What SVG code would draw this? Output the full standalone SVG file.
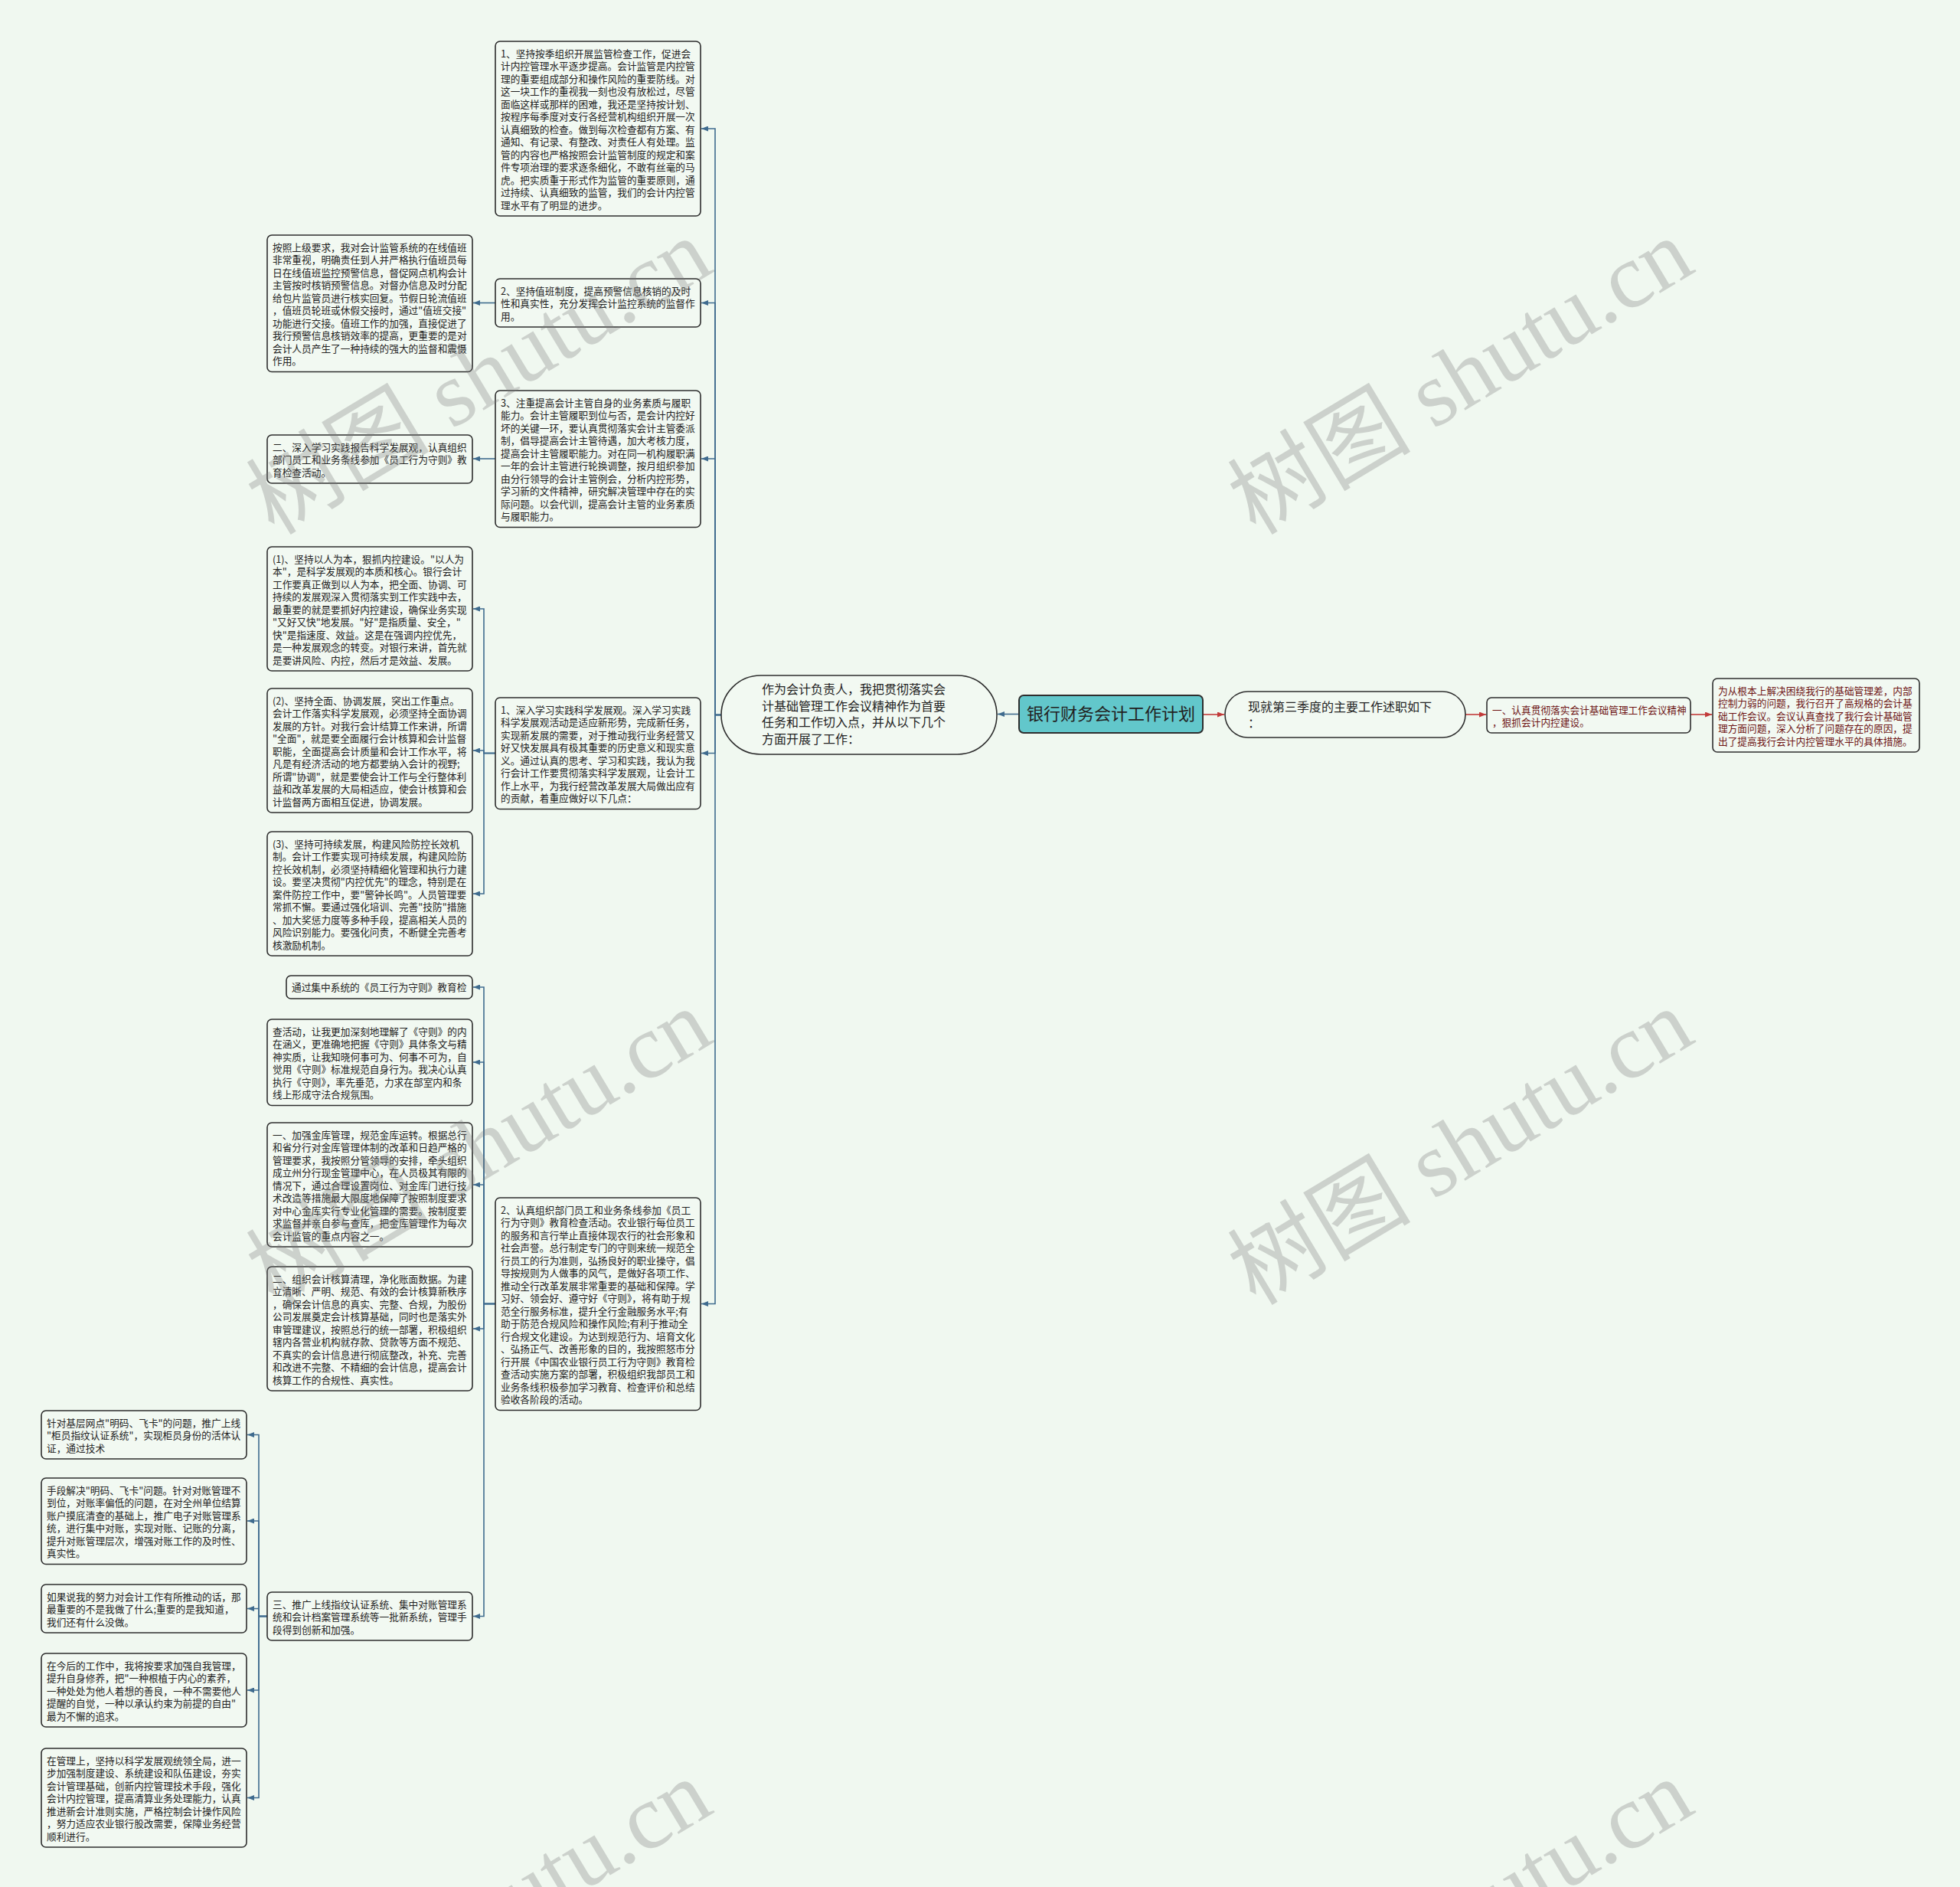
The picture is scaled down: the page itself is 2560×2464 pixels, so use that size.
<svg xmlns="http://www.w3.org/2000/svg" width="2560" height="2464" viewBox="0 0 2560 2464">
<style>
.bx{fill:#f2f9f2;stroke:#2e2e2e;stroke-width:1.6}
.t{font-family:"Noto Sans CJK SC","Noto Sans",sans-serif;font-size:12.7px;fill:#222}
.tr{font-family:"Noto Sans CJK SC","Noto Sans",sans-serif;font-size:12.7px;fill:#6e1414}
.tb{font-family:"Noto Sans CJK SC","Noto Sans",sans-serif;font-size:16px;fill:#222}
.cb{fill:none;stroke:#3f6b8e;stroke-width:1.6}
.cr{fill:none;stroke:#c23a3a;stroke-width:1.6}
.wm{font-family:"Liberation Serif","Noto Sans CJK SC",serif;font-size:120px;fill:#7a7a7a;opacity:0.3}
</style>
<defs>
<marker id="ab" markerUnits="userSpaceOnUse" markerWidth="9" markerHeight="7" refX="9" refY="3.5" orient="auto"><path d="M0,0 L9,3.5 L0,7 z" fill="#3f6b8e"/></marker>
<marker id="ar" markerUnits="userSpaceOnUse" markerWidth="9" markerHeight="7" refX="9" refY="3.5" orient="auto"><path d="M0,0 L9,3.5 L0,7 z" fill="#c23a3a"/></marker>
</defs>
<rect width="2560" height="2464" fill="#f0f8f0"/>

<g id="connectors">
<path class="cb" d="M1331 932.5 H1303" marker-end="url(#ab)"/>
<path class="cb" d="M942 933.5 H934 V168 H916" marker-end="url(#ab)"/>
<path class="cb" d="M942 933.5 H934 V395.5 H916" marker-end="url(#ab)"/>
<path class="cb" d="M942 933.5 H934 V599 H916" marker-end="url(#ab)"/>
<path class="cb" d="M942 933.5 H934 V983.5 H916" marker-end="url(#ab)"/>
<path class="cb" d="M942 933.5 H934 V1702.5 H916" marker-end="url(#ab)"/>
<path class="cb" d="M647 395.5 H618" marker-end="url(#ab)"/>
<path class="cb" d="M647 599 H618" marker-end="url(#ab)"/>
<path class="cb" d="M647 983.5 H632 V795 H618" marker-end="url(#ab)"/>
<path class="cb" d="M647 983.5 H632 V980 H618" marker-end="url(#ab)"/>
<path class="cb" d="M647 983.5 H632 V1167 H618" marker-end="url(#ab)"/>
<path class="cb" d="M647 1702.5 H632 V1289 H618" marker-end="url(#ab)"/>
<path class="cb" d="M647 1702.5 H632 V1387 H618" marker-end="url(#ab)"/>
<path class="cb" d="M647 1702.5 H632 V1547 H618" marker-end="url(#ab)"/>
<path class="cb" d="M647 1702.5 H632 V1735 H618" marker-end="url(#ab)"/>
<path class="cb" d="M647 1702.5 H632 V2110.5 H618" marker-end="url(#ab)"/>
<path class="cb" d="M349 2110.5 H338 V1873.5 H323" marker-end="url(#ab)"/>
<path class="cb" d="M349 2110.5 H338 V1986 H323" marker-end="url(#ab)"/>
<path class="cb" d="M349 2110.5 H338 V2100.5 H323" marker-end="url(#ab)"/>
<path class="cb" d="M349 2110.5 H338 V2207 H323" marker-end="url(#ab)"/>
<path class="cb" d="M349 2110.5 H338 V2347.5 H323" marker-end="url(#ab)"/>
<path class="cr" d="M1571 933 H1599" marker-end="url(#ar)"/>
<path class="cr" d="M1914 933 H1941" marker-end="url(#ar)"/>
<path class="cr" d="M2208 933 H2236" marker-end="url(#ar)"/>
</g>

<g id="root">
<rect x="1331" y="908" width="240" height="49" rx="6" fill="#62c7cb" stroke="#2e2e2e" stroke-width="2"/>
<text x="1451" y="940" text-anchor="middle" style="font-family:'Noto Sans CJK SC',sans-serif;font-size:22px;fill:#222">银行财务会计工作计划</text>
</g>

<g id="oval">
<rect x="942" y="882" width="360" height="103" rx="51.5" class="bx" stroke-width="2.2"/>
<text class="tb" x="995" y="906"><tspan x="995">作为会计负责人，我把贯彻落实会</tspan><tspan x="995" dy="21.6">计基础管理工作会议精神作为首要</tspan><tspan x="995" dy="21.6">任务和工作切入点，并从以下几个</tspan><tspan x="995" dy="21.6">方面开展了工作：</tspan></text>
</g>

<g id="n1">
<rect class="bx" x="647" y="54" width="268" height="228" rx="6"/>
<text class="t" x="654" y="74.5"><tspan x="654">1、坚持按季组织开展监管检查工作，促进会</tspan><tspan x="654" dy="16.5">计内控管理水平逐步提高。会计监管是内控管</tspan><tspan x="654" dy="16.5">理的重要组成部分和操作风险的重要防线。对</tspan><tspan x="654" dy="16.5">这一块工作的重视我一刻也没有放松过，尽管</tspan><tspan x="654" dy="16.5">面临这样或那样的困难，我还是坚持按计划、</tspan><tspan x="654" dy="16.5">按程序每季度对支行各经营机构组织开展一次</tspan><tspan x="654" dy="16.5">认真细致的检查。做到每次检查都有方案、有</tspan><tspan x="654" dy="16.5">通知、有记录、有整改、对责任人有处理。监</tspan><tspan x="654" dy="16.5">管的内容也严格按照会计监管制度的规定和案</tspan><tspan x="654" dy="16.5">件专项治理的要求逐条细化，不敢有丝毫的马</tspan><tspan x="654" dy="16.5">虎。把实质重于形式作为监管的重要原则，通</tspan><tspan x="654" dy="16.5">过持续、认真细致的监管，我们的会计内控管</tspan><tspan x="654" dy="16.5">理水平有了明显的进步。</tspan></text>
</g>

<g id="n2">
<rect class="bx" x="647" y="364" width="268" height="63" rx="6"/>
<text class="t" x="654" y="384.5"><tspan x="654">2、坚持值班制度，提高预警信息核销的及时</tspan><tspan x="654" dy="16.5">性和真实性，充分发挥会计监控系统的监督作</tspan><tspan x="654" dy="16.5">用。</tspan></text>
</g>

<g id="n2a">
<rect class="bx" x="349" y="307" width="268" height="178.5" rx="6"/>
<text class="t" x="356" y="327.5"><tspan x="356">按照上级要求，我对会计监管系统的在线值班</tspan><tspan x="356" dy="16.5">非常重视，明确责任到人并严格执行值班员每</tspan><tspan x="356" dy="16.5">日在线值班监控预警信息，督促网点机构会计</tspan><tspan x="356" dy="16.5">主管按时核销预警信息。对督办信息及时分配</tspan><tspan x="356" dy="16.5">给包片监管员进行核实回复。节假日轮流值班</tspan><tspan x="356" dy="16.5">，值班员轮班或休假交接时，通过"值班交接"</tspan><tspan x="356" dy="16.5">功能进行交接。值班工作的加强，直接促进了</tspan><tspan x="356" dy="16.5">我行预警信息核销效率的提高，更重要的是对</tspan><tspan x="356" dy="16.5">会计人员产生了一种持续的强大的监督和震慑</tspan><tspan x="356" dy="16.5">作用。</tspan></text>
</g>

<g id="n3">
<rect class="bx" x="647" y="510" width="268" height="178.5" rx="6"/>
<text class="t" x="654" y="530.5"><tspan x="654">3、注重提高会计主管自身的业务素质与履职</tspan><tspan x="654" dy="16.5">能力。会计主管履职到位与否，是会计内控好</tspan><tspan x="654" dy="16.5">坏的关键一环，要认真贯彻落实会计主管委派</tspan><tspan x="654" dy="16.5">制，倡导提高会计主管待遇，加大考核力度，</tspan><tspan x="654" dy="16.5">提高会计主管履职能力。对在同一机构履职满</tspan><tspan x="654" dy="16.5">一年的会计主管进行轮换调整，按月组织参加</tspan><tspan x="654" dy="16.5">由分行领导的会计主管例会，分析内控形势，</tspan><tspan x="654" dy="16.5">学习新的文件精神，研究解决管理中存在的实</tspan><tspan x="654" dy="16.5">际问题。以会代训，提高会计主管的业务素质</tspan><tspan x="654" dy="16.5">与履职能力。</tspan></text>
</g>

<g id="n3a">
<rect class="bx" x="349" y="568" width="268" height="63" rx="6"/>
<text class="t" x="356" y="588.5"><tspan x="356">二、深入学习实践报告科学发展观，认真组织</tspan><tspan x="356" dy="16.5">部门员工和业务条线参加《员工行为守则》教</tspan><tspan x="356" dy="16.5">育检查活动。</tspan></text>
</g>

<g id="n4">
<rect class="bx" x="647" y="911" width="268" height="145.5" rx="6"/>
<text class="t" x="654" y="931.5"><tspan x="654">1、深入学习实践科学发展观。深入学习实践</tspan><tspan x="654" dy="16.5">科学发展观活动是适应新形势，完成新任务，</tspan><tspan x="654" dy="16.5">实现新发展的需要，对于推动我行业务经营又</tspan><tspan x="654" dy="16.5">好又快发展具有极其重要的历史意义和现实意</tspan><tspan x="654" dy="16.5">义。通过认真的思考、学习和实践，我认为我</tspan><tspan x="654" dy="16.5">行会计工作要贯彻落实科学发展观，让会计工</tspan><tspan x="654" dy="16.5">作上水平，为我行经营改革发展大局做出应有</tspan><tspan x="654" dy="16.5">的贡献，着重应做好以下几点：</tspan></text>
</g>

<g id="n4a">
<rect class="bx" x="349" y="714" width="268" height="162" rx="6"/>
<text class="t" x="356" y="734.5"><tspan x="356">(1)、坚持以人为本，狠抓内控建设。"以人为</tspan><tspan x="356" dy="16.5">本"，是科学发展观的本质和核心。银行会计</tspan><tspan x="356" dy="16.5">工作要真正做到以人为本，把全面、协调、可</tspan><tspan x="356" dy="16.5">持续的发展观深入贯彻落实到工作实践中去，</tspan><tspan x="356" dy="16.5">最重要的就是要抓好内控建设，确保业务实现</tspan><tspan x="356" dy="16.5">"又好又快"地发展。"好"是指质量、安全，"</tspan><tspan x="356" dy="16.5">快"是指速度、效益。这是在强调内控优先，</tspan><tspan x="356" dy="16.5">是一种发展观念的转变。对银行来讲，首先就</tspan><tspan x="356" dy="16.5">是要讲风险、内控，然后才是效益、发展。</tspan></text>
</g>

<g id="n4b">
<rect class="bx" x="349" y="899" width="268" height="162" rx="6"/>
<text class="t" x="356" y="919.5"><tspan x="356">(2)、坚持全面、协调发展，突出工作重点。</tspan><tspan x="356" dy="16.5">会计工作落实科学发展观，必须坚持全面协调</tspan><tspan x="356" dy="16.5">发展的方针。对我行会计结算工作来讲，所谓</tspan><tspan x="356" dy="16.5">"全面"，就是要全面履行会计核算和会计监督</tspan><tspan x="356" dy="16.5">职能，全面提高会计质量和会计工作水平，将</tspan><tspan x="356" dy="16.5">凡是有经济活动的地方都要纳入会计的视野;</tspan><tspan x="356" dy="16.5">所谓"协调"，就是要使会计工作与全行整体利</tspan><tspan x="356" dy="16.5">益和改革发展的大局相适应，使会计核算和会</tspan><tspan x="356" dy="16.5">计监督两方面相互促进，协调发展。</tspan></text>
</g>

<g id="n4c">
<rect class="bx" x="349" y="1086" width="268" height="162" rx="6"/>
<text class="t" x="356" y="1106.5"><tspan x="356">(3)、坚持可持续发展，构建风险防控长效机</tspan><tspan x="356" dy="16.5">制。会计工作要实现可持续发展，构建风险防</tspan><tspan x="356" dy="16.5">控长效机制，必须坚持精细化管理和执行力建</tspan><tspan x="356" dy="16.5">设。要坚决贯彻"内控优先"的理念，特别是在</tspan><tspan x="356" dy="16.5">案件防控工作中，要"警钟长鸣"。人员管理要</tspan><tspan x="356" dy="16.5">常抓不懈。要通过强化培训、完善"技防"措施</tspan><tspan x="356" dy="16.5">、加大奖惩力度等多种手段，提高相关人员的</tspan><tspan x="356" dy="16.5">风险识别能力。要强化问责，不断健全完善考</tspan><tspan x="356" dy="16.5">核激励机制。</tspan></text>
</g>

<g id="n5">
<rect class="bx" x="647" y="1564" width="268" height="277.5" rx="6"/>
<text class="t" x="654" y="1584.5"><tspan x="654">2、认真组织部门员工和业务条线参加《员工</tspan><tspan x="654" dy="16.5">行为守则》教育检查活动。农业银行每位员工</tspan><tspan x="654" dy="16.5">的服务和言行举止直接体现农行的社会形象和</tspan><tspan x="654" dy="16.5">社会声誉。总行制定专门的守则来统一规范全</tspan><tspan x="654" dy="16.5">行员工的行为准则，弘扬良好的职业操守，倡</tspan><tspan x="654" dy="16.5">导按规则为人做事的风气，是做好各项工作、</tspan><tspan x="654" dy="16.5">推动全行改革发展非常重要的基础和保障。学</tspan><tspan x="654" dy="16.5">习好、领会好、遵守好《守则》，将有助于规</tspan><tspan x="654" dy="16.5">范全行服务标准，提升全行金融服务水平;有</tspan><tspan x="654" dy="16.5">助于防范合规风险和操作风险;有利于推动全</tspan><tspan x="654" dy="16.5">行合规文化建设。为达到规范行为、培育文化</tspan><tspan x="654" dy="16.5">、弘扬正气、改善形象的目的，我按照怒市分</tspan><tspan x="654" dy="16.5">行开展《中国农业银行员工行为守则》教育检</tspan><tspan x="654" dy="16.5">查活动实施方案的部署，积极组织我部员工和</tspan><tspan x="654" dy="16.5">业务条线积极参加学习教育、检查评价和总结</tspan><tspan x="654" dy="16.5">验收各阶段的活动。</tspan></text>
</g>

<g id="n5a">
<rect class="bx" x="374" y="1274" width="243" height="30" rx="6"/>
<text class="t" x="381" y="1294">通过集中系统的《员工行为守则》教育检</text>
</g>

<g id="n5b">
<rect class="bx" x="349" y="1331" width="268" height="112.5" rx="6"/>
<text class="t" x="356" y="1351.5"><tspan x="356">查活动，让我更加深刻地理解了《守则》的内</tspan><tspan x="356" dy="16.5">在涵义，更准确地把握《守则》具体条文与精</tspan><tspan x="356" dy="16.5">神实质，让我知晓何事可为、何事不可为，自</tspan><tspan x="356" dy="16.5">觉用《守则》标准规范自身行为。我决心认真</tspan><tspan x="356" dy="16.5">执行《守则》，率先垂范，力求在部室内和条</tspan><tspan x="356" dy="16.5">线上形成守法合规氛围。</tspan></text>
</g>

<g id="n5c">
<rect class="bx" x="349" y="1466" width="268" height="162" rx="6"/>
<text class="t" x="356" y="1486.5"><tspan x="356">一、加强金库管理，规范金库运转。根据总行</tspan><tspan x="356" dy="16.5">和省分行对金库管理体制的改革和日趋严格的</tspan><tspan x="356" dy="16.5">管理要求，我按照分管领导的安排，牵头组织</tspan><tspan x="356" dy="16.5">成立州分行现金管理中心，在人员极其有限的</tspan><tspan x="356" dy="16.5">情况下，通过合理设置岗位、对金库门进行技</tspan><tspan x="356" dy="16.5">术改造等措施最大限度地保障了按照制度要求</tspan><tspan x="356" dy="16.5">对中心金库实行专业化管理的需要。按制度要</tspan><tspan x="356" dy="16.5">求监督并亲自参与查库，把金库管理作为每次</tspan><tspan x="356" dy="16.5">会计监管的重点内容之一。</tspan></text>
</g>

<g id="n5d">
<rect class="bx" x="349" y="1654" width="268" height="162" rx="6"/>
<text class="t" x="356" y="1674.5"><tspan x="356">二、组织会计核算清理，净化账面数据。为建</tspan><tspan x="356" dy="16.5">立清晰、严明、规范、有效的会计核算新秩序</tspan><tspan x="356" dy="16.5">，确保会计信息的真实、完整、合规，为股份</tspan><tspan x="356" dy="16.5">公司发展奠定会计核算基础，同时也是落实外</tspan><tspan x="356" dy="16.5">审管理建议，按照总行的统一部署，积极组织</tspan><tspan x="356" dy="16.5">辖内各营业机构就存款、贷款等方面不规范、</tspan><tspan x="356" dy="16.5">不真实的会计信息进行彻底整改，补充、完善</tspan><tspan x="356" dy="16.5">和改进不完整、不精细的会计信息，提高会计</tspan><tspan x="356" dy="16.5">核算工作的合规性、真实性。</tspan></text>
</g>

<g id="n5e">
<rect class="bx" x="349" y="2079" width="268" height="63" rx="6"/>
<text class="t" x="356" y="2099.5"><tspan x="356">三、推广上线指纹认证系统、集中对账管理系</tspan><tspan x="356" dy="16.5">统和会计档案管理系统等一批新系统，管理手</tspan><tspan x="356" dy="16.5">段得到创新和加强。</tspan></text>
</g>

<g id="n6a">
<rect class="bx" x="54" y="1842" width="268" height="63" rx="6"/>
<text class="t" x="61" y="1862.5"><tspan x="61">针对基层网点"明码、飞卡"的问题，推广上线</tspan><tspan x="61" dy="16.5">"柜员指纹认证系统"，实现柜员身份的活体认</tspan><tspan x="61" dy="16.5">证，通过技术</tspan></text>
</g>

<g id="n6b">
<rect class="bx" x="54" y="1930" width="268" height="112.5" rx="6"/>
<text class="t" x="61" y="1950.5"><tspan x="61">手段解决"明码、飞卡"问题。针对对账管理不</tspan><tspan x="61" dy="16.5">到位，对账率偏低的问题，在对全州单位结算</tspan><tspan x="61" dy="16.5">账户摸底清查的基础上，推广电子对账管理系</tspan><tspan x="61" dy="16.5">统，进行集中对账，实现对账、记账的分离，</tspan><tspan x="61" dy="16.5">提升对账管理层次，增强对账工作的及时性、</tspan><tspan x="61" dy="16.5">真实性。</tspan></text>
</g>

<g id="n6c">
<rect class="bx" x="54" y="2069" width="268" height="63" rx="6"/>
<text class="t" x="61" y="2089.5"><tspan x="61">如果说我的努力对会计工作有所推动的话，那</tspan><tspan x="61" dy="16.5">最重要的不是我做了什么;重要的是我知道，</tspan><tspan x="61" dy="16.5">我们还有什么没做。</tspan></text>
</g>

<g id="n6d">
<rect class="bx" x="54" y="2159" width="268" height="96" rx="6"/>
<text class="t" x="61" y="2179.5"><tspan x="61">在今后的工作中，我将按要求加强自我管理，</tspan><tspan x="61" dy="16.5">提升自身修养，把"一种根植于内心的素养，</tspan><tspan x="61" dy="16.5">一种处处为他人着想的善良，一种不需要他人</tspan><tspan x="61" dy="16.5">提醒的自觉，一种以承认约束为前提的自由"</tspan><tspan x="61" dy="16.5">最为不懈的追求。</tspan></text>
</g>

<g id="n6e">
<rect class="bx" x="54" y="2283" width="268" height="129" rx="6"/>
<text class="t" x="61" y="2303.5"><tspan x="61">在管理上，坚持以科学发展观统领全局，进一</tspan><tspan x="61" dy="16.5">步加强制度建设、系统建设和队伍建设，夯实</tspan><tspan x="61" dy="16.5">会计管理基础，创新内控管理技术手段，强化</tspan><tspan x="61" dy="16.5">会计内控管理，提高清算业务处理能力，认真</tspan><tspan x="61" dy="16.5">推进新会计准则实施，严格控制会计操作风险</tspan><tspan x="61" dy="16.5">，努力适应农业银行股改需要，保障业务经营</tspan><tspan x="61" dy="16.5">顺利进行。</tspan></text>
</g>

<g id="r1">
<rect class="bx" x="1600" y="903" width="314" height="60" rx="30" stroke-width="2.2"/>
<text class="tb" x="1630" y="929"><tspan x="1630">现就第三季度的主要工作述职如下</tspan><tspan x="1630" dy="21">：</tspan></text>
</g>

<g id="r2">
<rect class="bx" x="1942" y="911" width="266" height="46" rx="6"/>
<text class="tr" x="1949" y="931.5"><tspan x="1949">一、认真贯彻落实会计基础管理工作会议精神</tspan><tspan x="1949" dy="16.5">，狠抓会计内控建设。</tspan></text>
</g>

<g id="r3">
<rect class="bx" x="2237" y="886" width="270" height="96" rx="6"/>
<text class="tr" x="2244" y="906.5"><tspan x="2244">为从根本上解决困绕我行的基础管理差，内部</tspan><tspan x="2244" dy="16.5">控制力弱的问题，我行召开了高规格的会计基</tspan><tspan x="2244" dy="16.5">础工作会议。会议认真查找了我行会计基础管</tspan><tspan x="2244" dy="16.5">理方面问题，深入分析了问题存在的原因，提</tspan><tspan x="2244" dy="16.5">出了提高我行会计内控管理水平的具体措施。</tspan></text>
</g>

<g id="watermarks">
<text class="wm" transform="translate(358 700) rotate(-31)">树图 shutu.cn</text>
<text class="wm" transform="translate(1640 700) rotate(-31)">树图 shutu.cn</text>
<text class="wm" transform="translate(358 1706) rotate(-31)">树图 shutu.cn</text>
<text class="wm" transform="translate(1640 1706) rotate(-31)">树图 shutu.cn</text>
<text class="wm" transform="translate(358 2712) rotate(-31)">树图 shutu.cn</text>
<text class="wm" transform="translate(1640 2712) rotate(-31)">树图 shutu.cn</text>
</g>
</svg>
